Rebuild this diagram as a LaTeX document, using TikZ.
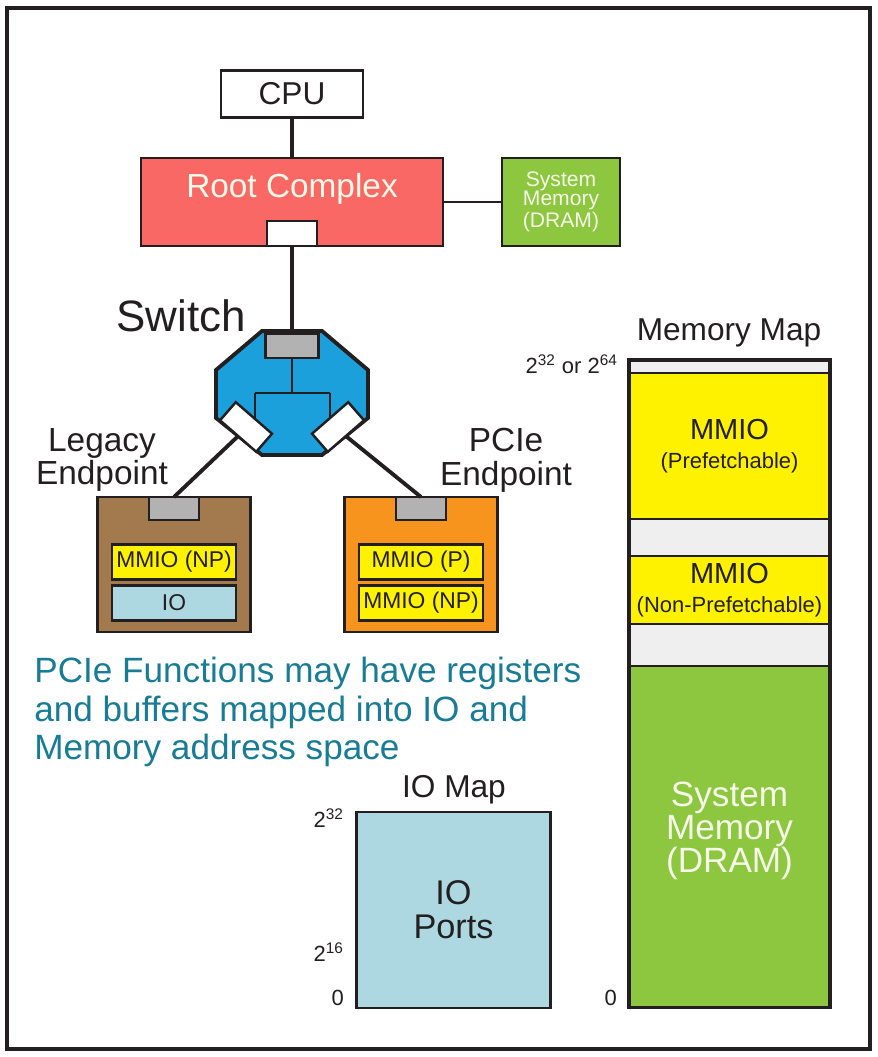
\documentclass[tikz,border=0pt]{standalone}
\usepackage{fontspec}
\setmainfont{Liberation Sans}
\usetikzlibrary{positioning}

\definecolor{rcred}{RGB}{249,104,101}
\definecolor{memgreen}{RGB}{141,198,63}
\definecolor{swblue}{RGB}{28,160,220}
\definecolor{mmioyellow}{RGB}{255,242,0}
\definecolor{iocyan}{RGB}{173,216,226}
\definecolor{legbrown}{RGB}{163,122,78}
\definecolor{pcieorange}{RGB}{247,148,30}
\definecolor{portgray}{RGB}{178,178,178}
\definecolor{gapgray}{RGB}{239,239,239}
\definecolor{noteteal}{RGB}{24,124,150}
\definecolor{ink}{RGB}{35,31,32}
\definecolor{paletext}{RGB}{246,250,232}

\tikzset{
  box/.style={draw=ink, line width=1.6pt, inner sep=0pt, outer sep=0pt},
  link/.style={draw=ink, line width=2.2pt},
  portbox/.style={box, fill=portgray, minimum width=1cm, minimum height=0.46cm},
  regbox/.style={box, line width=1.4pt, minimum width=2.48cm, minimum height=0.7cm, font=\fontsize{13}{15}\selectfont},
  seg/.style={draw=ink, line width=1pt, inner sep=0pt, outer sep=0pt, minimum width=4.02cm, align=center},
  tick/.style={anchor=east, font=\fontsize{12.5}{14}\selectfont},
}

\begin{document}
\begin{tikzpicture}[x=0.02cm, y=-0.02cm, font=\fontsize{18}{20}\selectfont, text=ink]
    \useasboundingbox (0,0) rectangle (877,1057);
    \draw[ink, line width=1.8pt] (7,8) rectangle (870,1049);

    % host side
    \node[box, minimum width=2.84cm, minimum height=0.94cm] (cpu) at (292,94) {CPU};
    \node[box, fill=rcred, minimum width=6.04cm, minimum height=1.76cm] (rc) at (292,202) {};
    \node[text=paletext, font=\fontsize{19}{21}\selectfont] (rclabel) at (292,189) {Root Complex};
    \node[box, fill=white, minimum width=1cm, minimum height=0.5cm, anchor=south] (rcport) at (rc.south) {};
    \node[box, fill=memgreen, minimum width=2.36cm, minimum height=1.76cm, align=center,
          text=paletext, font=\fontsize{12}{10.8}\selectfont] (sysmem) at (561,202) {System\\Memory\\(DRAM)};

    \draw[link] (cpu) -- (rc);
    \draw[link, line width=1.4pt] (rc) -- (sysmem);

    % switch
    \node[font=\fontsize{25}{27}\selectfont] (swlabel) at (181,316) {Switch};
    \filldraw[fill=swblue, draw=ink, line width=2.2pt, line join=miter]
        (262,331) -- (322,331) -- (368,370) -- (368,418) -- (322,455)
        -- (262,455) -- (216,418) -- (216,370) -- cycle;
    \node[portbox, minimum width=1.06cm, minimum height=0.48cm] (swport) at (292,346) {};
    \draw[link] (rcport) -- (swport);
    \draw[ink, line width=0.7pt] (swport.south) -- (292,393)
        (255,393) -- (330,393) (255,393) -- (255,430) (330,393) -- (330,430);
    \node[box, fill=white, line width=1.4pt, minimum width=0.96cm, minimum height=0.48cm, rotate=-41] (lport) at (246,427) {};
    \node[box, fill=white, line width=1.4pt, minimum width=0.96cm, minimum height=0.48cm, rotate=41] (rport) at (338,427) {};

    % endpoints
    \node[align=center, font=\fontsize{19}{19.3}\selectfont] (leglabel) at (102,460) {Legacy\\Endpoint};
    \node[align=center, font=\fontsize{19}{19.3}\selectfont] (pcielabel) at (506,460) {PCIe\\Endpoint};

    \node[box, fill=legbrown, minimum width=3.06cm, minimum height=2.7cm] (legacy) at (174,564.5) {};
    \node[portbox, anchor=north] (legport) at (legacy.north) {};
    \node[regbox, fill=mmioyellow] (legmmio) at (174,562) {MMIO (NP)};
    \node[regbox, fill=iocyan] (legio) at (174,603) {IO};

    \node[box, fill=pcieorange, minimum width=3.06cm, minimum height=2.7cm] (pcie) at (421,564.5) {};
    \node[portbox, anchor=north] (pcieport) at (pcie.north) {};
    \node[regbox, fill=mmioyellow] (piemmiop) at (421,562) {MMIO (P)};
    \node[regbox, fill=mmioyellow] (piemmionp) at (421,603) {MMIO (NP)};

    \draw[link] (lport.south) -- (legport.north);
    \draw[link] (rport.south) -- (pcieport.north);

    % note
    \node[anchor=north west, inner sep=0pt, align=left, text=noteteal, font=\fontsize{20}{21.8}\selectfont] (note) at (34,657)
        {PCIe Functions may have registers\\and buffers mapped into IO and\\Memory address space};

    % IO map
    \node (iotitle) at (454,790) {IO Map};
    \node[box, fill=iocyan, minimum width=3.88cm, minimum height=3.92cm, align=center,
          font=\fontsize{19.5}{19.3}\selectfont] (iomap) at (453.5,910) {IO\\Ports};
    \node[tick] (io32) at (350,818) {2\textsuperscript{32}};
    \node[tick] (io16) at (350,952) {2\textsuperscript{16}};
    \node[tick] (io0) at (350,998) {0};

    % memory map
    \node (memtitle) at (729,333) {Memory Map};
    \node[seg, fill=gapgray, minimum height=0.26cm] (mtop) at (729.5,366.5) {};
    \node[seg, fill=mmioyellow, minimum height=2.92cm, below=0pt of mtop] (mpref)
        {\fontsize{16.5}{18}\selectfont MMIO\\[-3.5pt]\fontsize{12.5}{14}\selectfont (Prefetchable)};
    \node[seg, fill=gapgray, minimum height=0.74cm, below=0pt of mpref] (mgap1) {};
    \node[seg, fill=mmioyellow, minimum height=1.36cm, below=0pt of mgap1] (mnp)
        {\fontsize{16.5}{18}\selectfont MMIO\\[-3.5pt]\fontsize{12.5}{14}\selectfont (Non-Prefetchable)};
    \node[seg, fill=gapgray, minimum height=0.84cm, below=0pt of mnp] (mgap2) {};
    \node[seg, fill=memgreen, minimum height=6.84cm, below=0pt of mgap2] (mdram) {};
    \node[align=center, text=paletext, font=\fontsize{20}{18.7}\selectfont] (mdramlabel) at (729.5,831) {System\\Memory\\(DRAM)};
    \draw[ink, line width=1.8pt] (mtop.north west) rectangle (mdram.south east);
    \node[tick] (mem64) at (624,364) {2\textsuperscript{32} or 2\textsuperscript{64}};
    \node[tick] (mem0) at (623,998) {0};
\end{tikzpicture}
\end{document}
